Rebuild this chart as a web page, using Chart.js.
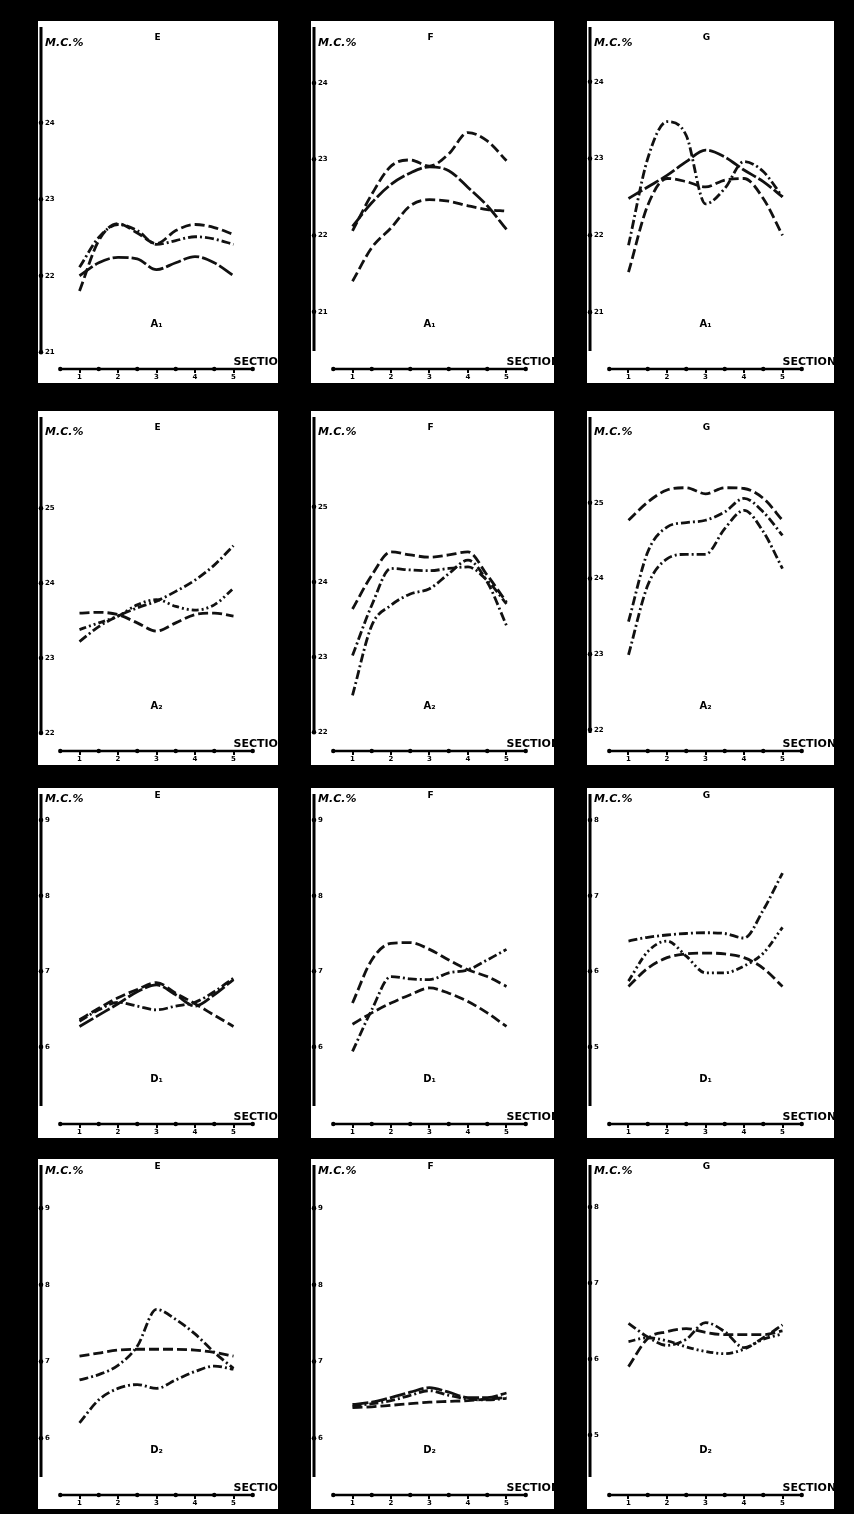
<!DOCTYPE html>
<html>
<head>
<meta charset="utf-8">
<script src="https://cdn.jsdelivr.net/npm/chart.js@4"></script>
<style>
  html, body { margin: 0; padding: 0; background: #000; }
  body { width: 854px; height: 1514px; position: relative; overflow: hidden; }
  .card { position: absolute; background: #fff; }
  .card canvas { display: block; }
</style>
</head>
<body>
<script>
// sections along the log (curves read at every half section)
const sections = [1, 1.5, 2, 2.5, 3, 3.5, 4, 4.5, 5];
const sectionTicks = [1, 2, 3, 4, 5];

const panelTitles = ['E', 'F', 'G', 'E', 'F', 'G', 'E', 'F', 'G', 'E', 'F', 'G'];
const panelGroups = ['A₁', 'A₁', 'A₁', 'A₂', 'A₂', 'A₂', 'D₁', 'D₁', 'D₁', 'D₂', 'D₂', 'D₂'];
const panelTicks = [
  [21, 22, 23, 24], [21, 22, 23, 24], [21, 22, 23, 24],
  [22, 23, 24, 25], [22, 23, 24, 25], [22, 23, 24, 25],
  [6, 7, 8, 9], [6, 7, 8, 9], [5, 6, 7, 8],
  [6, 7, 8, 9], [6, 7, 8, 9], [5, 6, 7, 8]
];

// moisture content, M.C. %  (three curves per panel)
const mcEA1 = [
  [21.80, 22.46, 22.68, 22.56, 22.42, 22.59, 22.67, 22.63, 22.54],
  [22.11, 22.50, 22.67, 22.59, 22.41, 22.46, 22.51, 22.48, 22.41],
  [22.00, 22.17, 22.24, 22.22, 22.08, 22.17, 22.25, 22.17, 22.00]
];
const mcFA1 = [
  [22.06, 22.54, 22.91, 22.99, 22.91, 23.07, 23.35, 23.24, 22.98],
  [22.12, 22.43, 22.67, 22.82, 22.90, 22.85, 22.63, 22.39, 22.08],
  [21.40, 21.84, 22.10, 22.39, 22.47, 22.45, 22.39, 22.34, 22.32]
];
const mcGA1 = [
  [21.87, 23.00, 23.48, 23.30, 22.41, 22.61, 22.96, 22.83, 22.50],
  [22.48, 22.63, 22.78, 22.96, 23.11, 23.02, 22.85, 22.70, 22.50],
  [21.52, 22.39, 22.74, 22.70, 22.63, 22.72, 22.74, 22.48, 22.00]
];
const mcEA2 = [
  [23.22, 23.42, 23.56, 23.67, 23.76, 23.89, 24.04, 24.24, 24.50],
  [23.38, 23.47, 23.56, 23.71, 23.78, 23.69, 23.64, 23.71, 23.93],
  [23.60, 23.61, 23.58, 23.47, 23.36, 23.47, 23.58, 23.60, 23.56]
];
const mcFA2 = [
  [23.64, 24.09, 24.40, 24.36, 24.33, 24.36, 24.40, 24.09, 23.73],
  [23.02, 23.69, 24.18, 24.16, 24.15, 24.18, 24.20, 24.02, 23.71],
  [22.49, 23.42, 23.69, 23.84, 23.91, 24.11, 24.29, 24.00, 23.42]
];
const mcGA2 = [
  [24.77, 25.01, 25.17, 25.20, 25.12, 25.20, 25.19, 25.06, 24.77],
  [23.43, 24.35, 24.68, 24.74, 24.77, 24.88, 25.06, 24.88, 24.57],
  [22.99, 23.91, 24.26, 24.32, 24.32, 24.66, 24.90, 24.62, 24.13]
];
const mcED1 = [
  [6.36, 6.51, 6.65, 6.76, 6.85, 6.71, 6.57, 6.42, 6.27],
  [6.34, 6.49, 6.59, 6.54, 6.49, 6.54, 6.59, 6.73, 6.91],
  [6.27, 6.42, 6.57, 6.73, 6.82, 6.69, 6.54, 6.69, 6.89]
];
const mcFD1 = [
  [6.58, 7.15, 7.37, 7.38, 7.29, 7.15, 7.02, 6.93, 6.80],
  [5.94, 6.49, 6.93, 6.90, 6.89, 6.98, 7.02, 7.15, 7.29],
  [6.30, 6.45, 6.58, 6.69, 6.78, 6.71, 6.60, 6.45, 6.27]
];
const mcGD1 = [
  [6.40, 6.45, 6.48, 6.50, 6.51, 6.50, 6.44, 6.81, 7.30],
  [5.87, 6.26, 6.40, 6.20, 5.98, 5.98, 6.07, 6.24, 6.58],
  [5.80, 6.04, 6.18, 6.23, 6.24, 6.23, 6.18, 6.04, 5.80]
];
const mcED2 = [
  [6.76, 6.83, 6.95, 7.20, 7.68, 7.55, 7.36, 7.12, 6.91],
  [7.07, 7.11, 7.15, 7.16, 7.16, 7.16, 7.15, 7.12, 7.07],
  [6.20, 6.50, 6.65, 6.70, 6.65, 6.76, 6.87, 6.94, 6.90]
];
const mcFD2 = [
  [6.44, 6.47, 6.53, 6.60, 6.66, 6.60, 6.53, 6.53, 6.59],
  [6.42, 6.45, 6.49, 6.56, 6.62, 6.56, 6.51, 6.50, 6.52],
  [6.40, 6.41, 6.43, 6.45, 6.47, 6.48, 6.49, 6.51, 6.53]
];
const mcGD2 = [
  [6.47, 6.29, 6.18, 6.26, 6.48, 6.36, 6.15, 6.28, 6.45],
  [5.90, 6.27, 6.36, 6.40, 6.35, 6.32, 6.32, 6.32, 6.37],
  [6.23, 6.28, 6.24, 6.16, 6.10, 6.07, 6.13, 6.26, 6.33]
];
const panelData = [mcEA1, mcFA1, mcGA1, mcEA2, mcFA2, mcGA2, mcED1, mcFD1, mcGD1, mcED2, mcFD2, mcGD2];

// layout of the photographed cards
const colLeft = [38, 311, 587];
const colWidth = [240, 243, 247];
const rowTop = [21, 411, 788, 1159];
const rowHeight = [362, 354, 350, 350];
const titleOffset = [17, 17, 8, 8];
const labelOffset = [25, 24, 14, 15];
const yRanges = [
  [20.78, 25.07], [20.25, 24.55], [20.26, 24.53],
  [21.76, 26.03], [21.75, 26.01], [21.72, 25.95],
  [4.98, 9.16], [4.98, 9.16], [3.98, 8.16],
  [5.26, 9.38], [5.26, 9.38], [4.21, 8.37]
];
const PX_PER_SECTION = 38.5;

const DASH = [10, 4], DASHDOT = [9, 3, 2, 3], DASH2 = [7, 3, 2, 3, 2, 3], LONG = [16, 3];
const panelStyles = [
  [DASH, DASHDOT, LONG], [DASH, LONG, DASH], [DASHDOT, LONG, DASH],
  [DASHDOT, DASH2, DASH], [DASH, DASHDOT, DASHDOT], [DASH, DASHDOT, DASHDOT],
  [DASH, DASHDOT, LONG], [DASH, DASHDOT, DASH], [DASHDOT, DASH2, DASH],
  [DASHDOT, DASH, DASHDOT], [LONG, DASHDOT, DASH], [DASHDOT, DASH, DASH2]
];

const FONT = "'DejaVu Sans', 'Liberation Sans', sans-serif";

// axes, dots and captions drawn the way the hand-made charts have them
const cardDeco = {
  id: 'cardDeco',
  afterDraw(chart, args, o) {
    const { ctx, chartArea: a, scales: { x, y } } = chart;
    ctx.save();
    ctx.strokeStyle = '#000';
    ctx.fillStyle = '#000';

    // vertical axis with tick dots
    ctx.lineWidth = 3;
    ctx.beginPath();
    ctx.moveTo(a.left, 6);
    ctx.lineTo(a.left, a.bottom - 18);
    ctx.stroke();
    o.ticks.forEach(t => {
      ctx.beginPath();
      ctx.arc(a.left, y.getPixelForValue(t), 2.3, 0, Math.PI * 2);
      ctx.fill();
    });

    // section axis with dots at the half sections
    const x0 = x.getPixelForValue(0.5), x1 = x.getPixelForValue(5.5);
    ctx.lineWidth = 2.5;
    ctx.beginPath();
    ctx.moveTo(x0, a.bottom);
    ctx.lineTo(x1, a.bottom);
    ctx.stroke();
    [0.5, 1.5, 2.5, 3.5, 4.5, 5.5].forEach(v => {
      ctx.beginPath();
      ctx.arc(x.getPixelForValue(v), a.bottom, 2.2, 0, Math.PI * 2);
      ctx.fill();
    });

    ctx.textBaseline = 'alphabetic';
    ctx.textAlign = 'left';
    ctx.font = "bold 11px " + FONT;
    ctx.fillText('SECTION', x.getPixelForValue(5.0), a.bottom - 4);

    ctx.font = "bold italic 11px " + FONT;
    ctx.fillText('M.C.%', a.left + 4, o.labelY);

    ctx.textAlign = 'center';
    ctx.textBaseline = 'middle';
    ctx.font = "bold 9px " + FONT;
    ctx.fillText(o.title, x.getPixelForValue(3) + 1, o.titleY);
    ctx.font = "bold 10px " + FONT;
    ctx.fillText(o.group, x.getPixelForValue(3), a.bottom - 45);
    ctx.restore();
  }
};

panelData.forEach((series, p) => {
  const row = Math.floor(p / 3), col = p % 3;
  const w = colWidth[col], h = rowHeight[row];

  const card = document.createElement('div');
  card.className = 'card';
  card.style.left = colLeft[col] + 'px';
  card.style.top = rowTop[row] + 'px';
  card.style.width = w + 'px';
  card.style.height = h + 'px';
  const canvas = document.createElement('canvas');
  canvas.width = w;
  canvas.height = h;
  card.appendChild(canvas);
  document.body.appendChild(card);

  const ticks = panelTicks[p];
  new Chart(canvas.getContext('2d'), {
    type: 'line',
    data: {
      datasets: series.map((vals, i) => ({
        label: panelTitles[p] + ' ' + (i + 1),
        data: sections.map((s, k) => ({ x: s, y: vals[k] })),
        borderColor: '#111',
        borderWidth: 2.8,
        borderDash: panelStyles[p][i],
        pointRadius: 0,
        fill: false,
        cubicInterpolationMode: 'monotone'
      }))
    },
    options: {
      responsive: false,
      animation: false,
      devicePixelRatio: 1,
      layout: { padding: { top: 20, left: 0, right: 0, bottom: 0 } },
      plugins: {
        legend: { display: false },
        tooltip: { enabled: false },
        cardDeco: {
          ticks: ticks,
          title: panelTitles[p],
          group: panelGroups[p],
          titleY: titleOffset[row],
          labelY: labelOffset[row]
        }
      },
      scales: {
        x: {
          type: 'linear',
          min: 0,
          max: (w - 3) / PX_PER_SECTION,
          afterBuildTicks: s => { s.ticks = sectionTicks.map(v => ({ value: v })); },
          afterFit: s => { s.height = 14; },
          grid: { display: true, drawOnChartArea: false, drawTicks: true, tickLength: 4, color: '#000', lineWidth: 2 },
          border: { display: false },
          ticks: { font: { family: FONT, size: 7, weight: 'bold' }, color: '#000', padding: 0, maxRotation: 0, autoSkip: false }
        },
        y: {
          min: yRanges[p][0],
          max: yRanges[p][1],
          afterBuildTicks: s => { s.ticks = ticks.map(v => ({ value: v })); },
          afterFit: s => { s.width = 3; },
          grid: { display: false },
          border: { display: false },
          ticks: { mirror: true, padding: 4, font: { family: FONT, size: 7, weight: 'bold' }, color: '#000', autoSkip: false }
        }
      }
    },
    plugins: [cardDeco]
  });
});
</script>
</body>
</html>
